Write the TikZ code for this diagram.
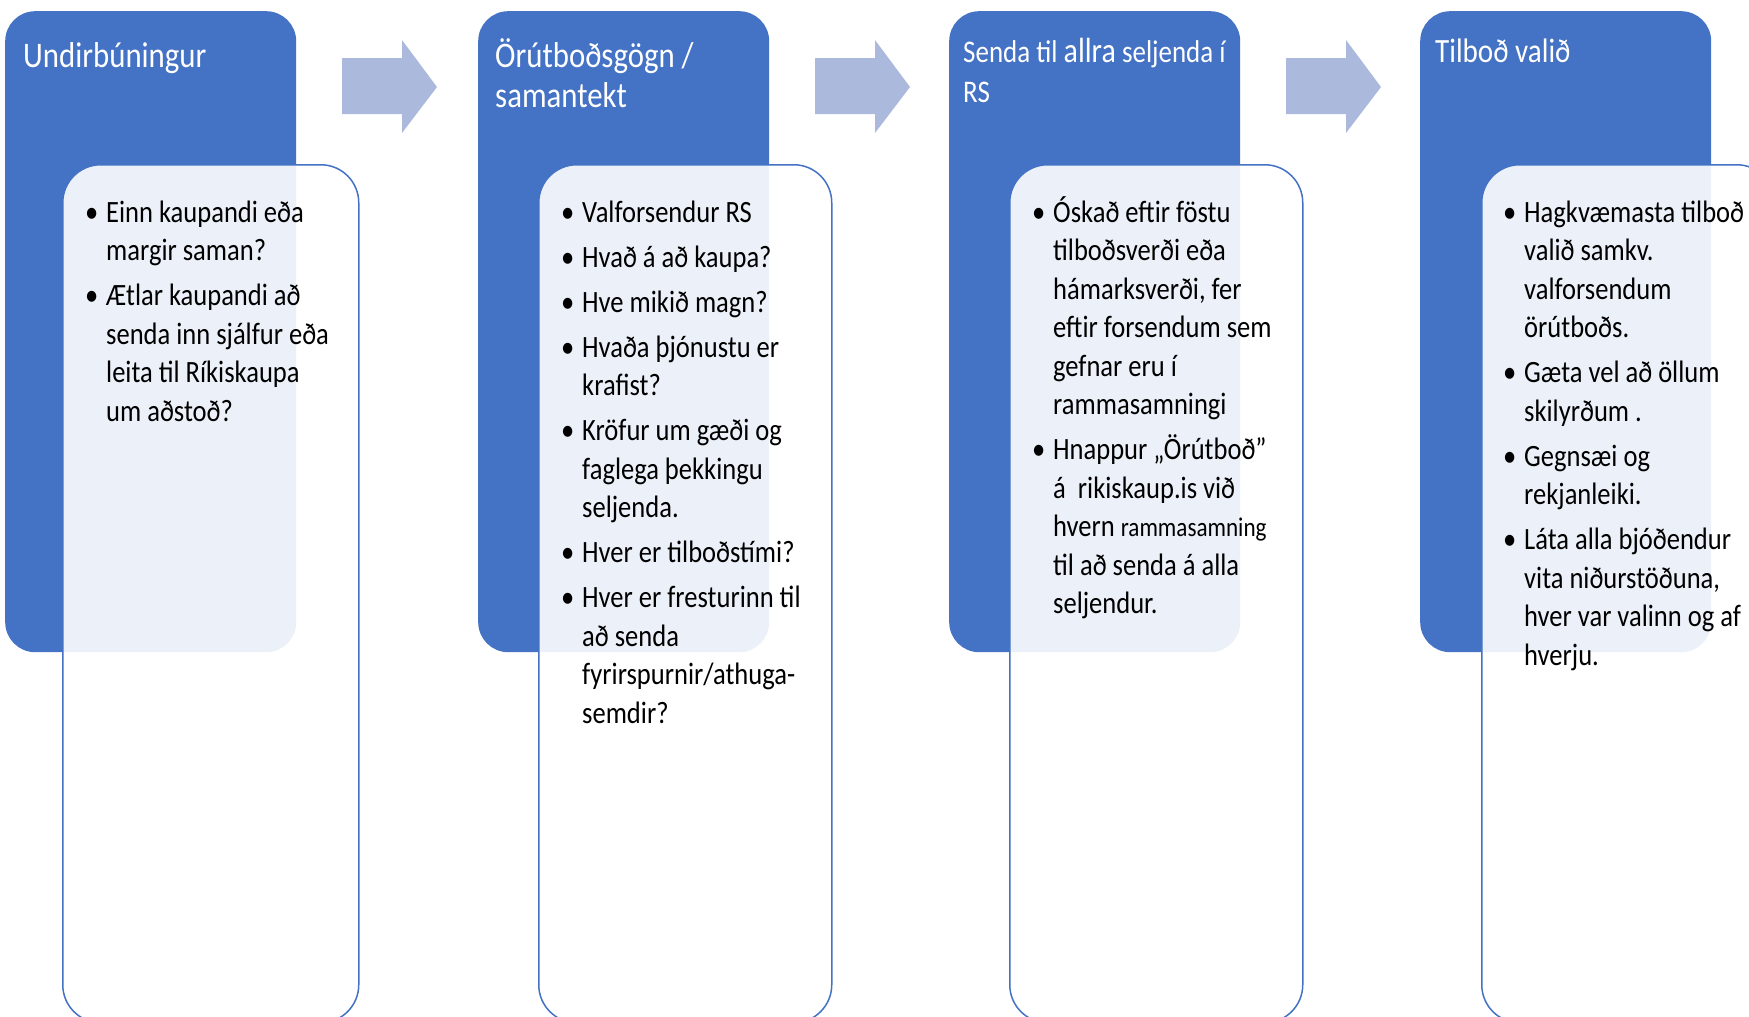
\documentclass[tikz,border=0pt]{standalone}
\usepackage{fontspec}
\setmainfont{Carlito}[FakeStretch=0.856]
\definecolor{mblue}{HTML}{4472C4}
\definecolor{arrowc}{HTML}{ABB9DC}
\newcommand\bitem[1]{\par\hangindent=21pt\hangafter=1\noindent\makebox[21pt][l]{•}#1\par}
\newcommand\bodybox[1]{\vtop{\hsize=420pt\parindent=0pt\baselineskip=38.5pt\parskip=6.5pt\lineskiplimit=-20pt #1}}
\begin{document}
\begin{tikzpicture}[x=1pt,y=-1pt,
  bluebox/.style={fill=mblue, draw=none, rounded corners=30pt, inner sep=0pt,
    minimum width=291pt, minimum height=641pt, anchor=north west},
  whitebox/.style={fill=white, fill opacity=0.9, draw=mblue, line width=1.5pt,
    rounded corners=38pt, inner sep=0pt, minimum width=293pt, minimum height=858pt, anchor=north west},
  titletext/.style={text=white, font=\fontsize{36pt}{40pt}\selectfont, inner sep=0pt, anchor=base west},
  bodytext/.style={text=black, font=\fontsize{31pt}{38.5pt}\selectfont, inner sep=0pt, anchor=base west},
  blockarrow/.style={fill=arrowc, draw=none}]
\useasboundingbox (0,0) rectangle (1749,1017);
\clip (0,0) rectangle (1749,1017);

% column 1
\node[bluebox] (b1) at (5,11) {};
\node[titletext] (t1) at (23,67) {Undirbúningur};
\node[whitebox, minimum width=296pt] (w1) at (62,164) {};
\node[bodytext] (x1) at (85,222) {\bodybox{%
\bitem{Einn kaupandi eða\newline margir saman?}%
\bitem{Ætlar kaupandi að\newline senda inn sjálfur eða\newline leita til Ríkiskaupa\newline um aðstoð?}}};

% column 2
\node[bluebox] (b2) at (478,11) {};
\node[titletext] (t2) at (495,67) {\vtop{\baselineskip=40pt\hbox{Örútboðsgögn /}\hbox{samantekt}}};
\node[whitebox] (w2) at (538,164) {};
\node[bodytext] (x2) at (561,222) {\bodybox{%
\bitem{Valforsendur RS}%
\bitem{Hvað á að kaupa?}%
\bitem{Hve mikið magn?}%
\bitem{Hvaða þjónustu er\newline krafist?}%
\bitem{Kröfur um gæði og\newline faglega þekkingu\newline seljenda.}%
\bitem{Hver er tilboðstími?}%
\bitem{Hver er fresturinn til\newline að senda\newline fyrirspurnir/athuga-\newline semdir?}}};

% column 3
\node[bluebox] (b3) at (949,11) {};
\node[titletext, font=\fontsize{31.5pt}{40pt}\selectfont] (t3) at (963,62) {\vtop{\baselineskip=40pt\hbox{Senda til {\fontsize{35pt}{40pt}\selectfont allra} seljenda í}\hbox{RS}}};
\node[whitebox] (w3) at (1009,164) {};
\node[bodytext] (x3) at (1032,222) {\bodybox{%
\bitem{Óskað eftir föstu\newline tilboðsverði eða\newline hámarksverði, fer\newline eftir forsendum sem\newline gefnar eru í\newline rammasamningi}%
\bitem{Hnappur „Örútboð”\newline á\ \ rikiskaup.is við\newline hvern {\fontsize{27pt}{38.5pt}\selectfont rammasamning}\newline til að senda á alla\newline seljendur.}}};

% column 4
\node[bluebox] (b4) at (1420,11) {};
\node[titletext, font=\fontsize{34pt}{40pt}\selectfont] (t4) at (1435,62) {Tilboð valið};
\node[whitebox] (w4) at (1481,164) {};
\node[bodytext] (x4) at (1503,222) {\bodybox{%
\bitem{Hagkvæmasta tilboð\newline valið samkv.\newline valforsendum\newline örútboðs.}%
\bitem{Gæta vel að öllum\newline skilyrðum .}%
\bitem{Gegnsæi og\newline rekjanleiki.}%
\bitem{Láta alla bjóðendur\newline vita niðurstöðuna,\newline hver var valinn og af\newline hverju.}}};

% block arrows
\foreach \x/\n in {342/a1, 815/a2, 1286/a3}{
  \fill[blockarrow] (\x,58) -- (\x+60,58) -- (\x+60,40) -- (\x+95,87)
    -- (\x+60,133) -- (\x+60,114) -- (\x,114) -- cycle;
}
\end{tikzpicture}
\end{document}
